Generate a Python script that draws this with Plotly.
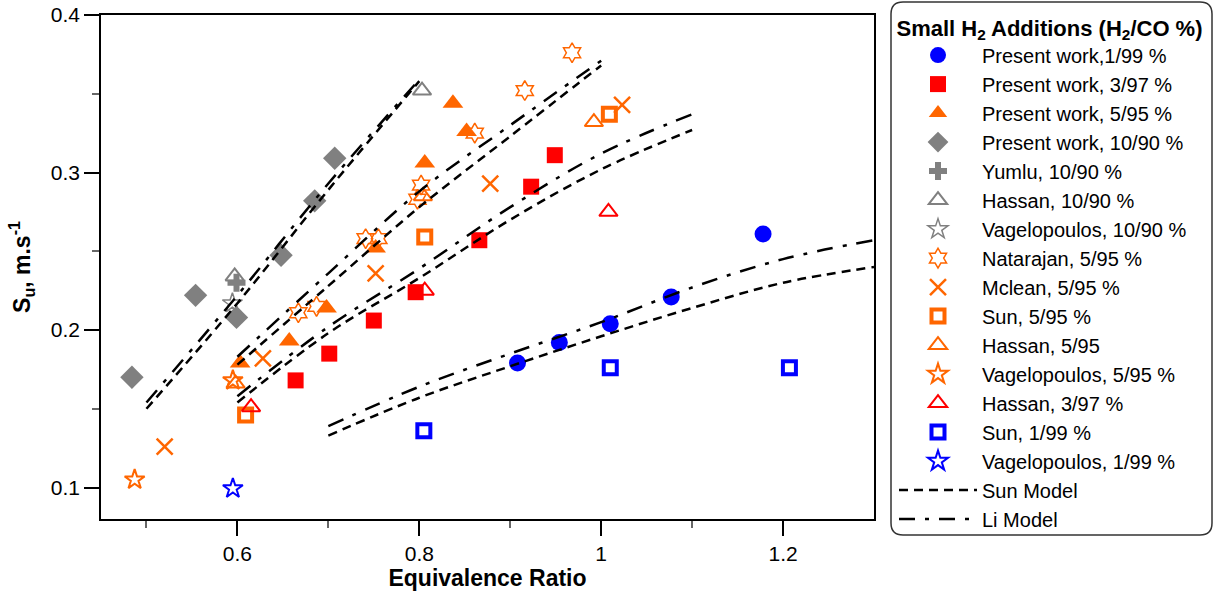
import plotly.graph_objects as go

# ---------------- data ----------------
phi_pw_1_99 = [0.908, 0.954, 1.010, 1.077, 1.178]
su_pw_1_99 = [0.179, 0.192, 0.204, 0.221, 0.261]

phi_pw_3_97 = [0.664, 0.701, 0.750, 0.796, 0.866, 0.923, 0.949]
su_pw_3_97 = [0.168, 0.185, 0.206, 0.224, 0.257, 0.291, 0.311]

phi_pw_5_95 = [0.603, 0.657, 0.698, 0.752, 0.806, 0.837, 0.852]
su_pw_5_95 = [0.179, 0.193, 0.214, 0.252, 0.306, 0.344, 0.326]

phi_pw_10_90 = [0.484, 0.554, 0.599, 0.648, 0.685, 0.707]
su_pw_10_90 = [0.170, 0.222, 0.208, 0.2475, 0.282, 0.309]

phi_yumlu_10_90 = [0.599]
su_yumlu_10_90 = [0.230]

phi_hassan_10_90 = [0.597, 0.803]
su_hassan_10_90 = [0.234, 0.352]

phi_vag_10_90 = [0.5945]
su_vag_10_90 = [0.217]

phi_natarajan_5_95 = [0.667, 0.687, 0.741, 0.755, 0.798, 0.802, 0.861, 0.916, 0.968]
su_natarajan_5_95 = [0.211, 0.215, 0.258, 0.258, 0.283, 0.292, 0.325, 0.352, 0.376]

phi_mclean_5_95 = [0.520, 0.628, 0.752, 0.878, 1.023]
su_mclean_5_95 = [0.126, 0.182, 0.236, 0.293, 0.343]

phi_sun_5_95 = [0.609, 0.806, 1.009]
su_sun_5_95 = [0.146, 0.259, 0.337]

phi_hassan_5_95 = [0.598, 0.804, 0.992]
su_hassan_5_95 = [0.166, 0.285, 0.332]

phi_vag_5_95 = [0.487, 0.595]
su_vag_5_95 = [0.105, 0.168]

phi_hassan_3_97 = [0.615, 0.806, 1.008]
su_hassan_3_97 = [0.151, 0.225, 0.275]

phi_sun_1_99 = [0.805, 1.010, 1.207]
su_sun_1_99 = [0.136, 0.176, 0.176]

phi_vag_1_99 = [0.595]
su_vag_1_99 = [0.0994]

# model curves
phi_model_10 = [0.50, 0.60, 0.70, 0.80]
sun_model_10 = [0.150, 0.217, 0.289, 0.358]
li_model_10 = [0.154, 0.222, 0.293, 0.359]

phi_model_5 = [0.60, 0.70, 0.80, 0.90, 1.00]
sun_model_5 = [0.178, 0.228, 0.278, 0.323, 0.368]
li_model_5 = [0.183, 0.236, 0.288, 0.330, 0.371]

phi_model_3 = [0.60, 0.70, 0.80, 0.90, 1.00, 1.10]
sun_model_3 = [0.154, 0.198, 0.233, 0.270, 0.302, 0.327]
li_model_3 = [0.158, 0.202, 0.239, 0.278, 0.312, 0.337]

phi_model_1 = [0.70, 0.80, 0.90, 1.00, 1.10, 1.20, 1.30]
sun_model_1 = [0.133, 0.157, 0.177, 0.196, 0.214, 0.230, 0.240]
li_model_1 = [0.139, 0.164, 0.185, 0.205, 0.227, 0.245, 0.257]

BLUE = "#0000FF"
RED = "#FF0000"
ORANGE = "#FF6600"
GRAY = "#808080"
FONT = "Arial, Liberation Sans, sans-serif"

fig = go.Figure()


def add_markers(x, y, name, symbol, color, size, lw=0):
    marker = dict(symbol=symbol, color=color, size=size)
    if lw:
        marker["line"] = dict(color=color, width=lw)
    else:
        marker["line"] = dict(width=0)
    fig.add_trace(go.Scatter(x=x, y=y, mode="markers", name=name, marker=marker))


add_markers(phi_pw_1_99, su_pw_1_99, "Present work,1/99 %", "circle", BLUE, 17)
add_markers(phi_pw_3_97, su_pw_3_97, "Present work, 3/97 %", "square", RED, 16)
add_markers(phi_pw_5_95, su_pw_5_95, "Present work, 5/95 %", "triangle-up", ORANGE, 18)
add_markers(phi_pw_10_90, su_pw_10_90, "Present work, 10/90 %", "diamond", GRAY, 18)
add_markers(phi_yumlu_10_90, su_yumlu_10_90, "Yumlu, 10/90 %", "cross", GRAY, 15)
add_markers(phi_hassan_10_90, su_hassan_10_90, "Hassan, 10/90 %", "triangle-up-open", GRAY, 16, 2)
add_markers(phi_vag_10_90, su_vag_10_90, "Vagelopoulos, 10/90 %", "star-open", GRAY, 15, 1.5)
add_markers(phi_natarajan_5_95, su_natarajan_5_95, "Natarajan, 5/95 %", "hexagram-open", ORANGE, 15, 1.5)
add_markers(phi_mclean_5_95, su_mclean_5_95, "Mclean, 5/95 %", "x-thin-open", ORANGE, 16, 2.5)
add_markers(phi_sun_5_95, su_sun_5_95, "Sun, 5/95 %", "square-open", ORANGE, 13, 4)
add_markers(phi_hassan_5_95, su_hassan_5_95, "Hassan, 5/95", "triangle-up-open", ORANGE, 16, 2)
add_markers(phi_vag_5_95, su_vag_5_95, "Vagelopoulos, 5/95 %", "star-open", ORANGE, 15, 2)
add_markers(phi_hassan_3_97, su_hassan_3_97, "Hassan, 3/97 %", "triangle-up-open", RED, 16, 2)
add_markers(phi_sun_1_99, su_sun_1_99, "Sun, 1/99 %", "square-open", BLUE, 13, 4)
add_markers(phi_vag_1_99, su_vag_1_99, "Vagelopoulos, 1/99 %", "star-open", BLUE, 15, 2)

SUN_DASH = "9px,6px"
LI_DASH = "16px,10px,4px,10px"

for i, (px, sy) in enumerate([(phi_model_10, sun_model_10), (phi_model_5, sun_model_5),
                              (phi_model_3, sun_model_3), (phi_model_1, sun_model_1)]):
    fig.add_trace(go.Scatter(x=px, y=sy, mode="lines", name="Sun Model", legendgroup="sun",
                             showlegend=(i == 0), line=dict(color="black", width=2.5, dash=SUN_DASH,
                                                            shape="spline")))
for i, (px, ly) in enumerate([(phi_model_10, li_model_10), (phi_model_5, li_model_5),
                              (phi_model_3, li_model_3), (phi_model_1, li_model_1)]):
    fig.add_trace(go.Scatter(x=px, y=ly, mode="lines", name="Li Model", legendgroup="li",
                             showlegend=(i == 0), line=dict(color="black", width=2.5, dash=LI_DASH,
                                                            shape="spline")))

# rounded legend frame (paper coords)
L, R, T, B = 101, 874, 15, 519
W, H = R - L, B - T


def px2paper(xp, yp):
    return (xp - L) / W, (B - yp) / H


x0, y0 = px2paper(891, 2)
x1, y1 = px2paper(1212, 535)
rx, ry = 12 / W, 12 / H
path = (f"M{x0+rx},{y0} L{x1-rx},{y0} Q{x1},{y0} {x1},{y0-ry} "
        f"L{x1},{y1+ry} Q{x1},{y1} {x1-rx},{y1} L{x0+rx},{y1} Q{x0},{y1} {x0},{y1+ry} "
        f"L{x0},{y0-ry} Q{x0},{y0} {x0+rx},{y0} Z")
fig.add_shape(type="path", path=path, xref="paper", yref="paper",
              line=dict(color="#333333", width=1.5), fillcolor="rgba(0,0,0,0)", layer="above")

lx, ly = px2paper(894, 7)

fig.update_layout(
    width=1217, height=596,
    margin=dict(l=L, r=1217 - R, t=T, b=596 - B, autoexpand=False),
    paper_bgcolor="white", plot_bgcolor="white",
    font=dict(family=FONT, color="black"),
    showlegend=True,
    legend=dict(
        x=lx, y=ly, xanchor="left", yanchor="top",
        bgcolor="rgba(0,0,0,0)", borderwidth=0,
        font=dict(size=20, family=FONT, color="black"),
        itemwidth=78,
        title=dict(text="<b>Small H<sub>2</sub> Additions (H<sub>2</sub>/CO %)</b>",
                   font=dict(size=22, family=FONT), side="top center"),
        tracegroupgap=0,
    ),
    xaxis=dict(
        range=[0.45, 1.3], tickvals=[0.6, 0.8, 1.0, 1.2], ticktext=["0.6", "0.8", "1", "1.2"],
        ticks="outside", ticklen=15, tickwidth=1.5, tickcolor="black",
        minor=dict(tickvals=[0.5, 0.7, 0.9, 1.1], ticks="outside", ticklen=7, tickwidth=1.5, tickcolor="#666666"),
        showline=True, linecolor="black", linewidth=1.5, mirror=True,
        showgrid=False, zeroline=False,
        tickfont=dict(size=21, family=FONT),
        title=dict(text="<b>Equivalence Ratio</b>", font=dict(size=23, family=FONT), standoff=3),
    ),
    yaxis=dict(
        range=[0.08, 0.4], tickvals=[0.1, 0.2, 0.3, 0.4], ticktext=["0.1", "0.2", "0.3", "0.4"],
        ticks="outside", ticklen=15, tickwidth=1.5, tickcolor="black",
        minor=dict(tickvals=[0.15, 0.25, 0.35], ticks="outside", ticklen=7, tickwidth=1.5, tickcolor="#666666"),
        showline=True, linecolor="black", linewidth=1.5, mirror=True,
        showgrid=False, zeroline=False,
        tickfont=dict(size=21, family=FONT),
        title=dict(text="<b>S<sub>u</sub>, m.s<sup>-1</sup></b>", font=dict(size=23, family=FONT), standoff=14),
    ),
)

try:
    fig.update_layout(legend_maxheight=600)
except Exception:
    pass

fig.write_html("out.html", config={"displayModeBar": False},
               post_script="document.body.style.margin='0px';")
